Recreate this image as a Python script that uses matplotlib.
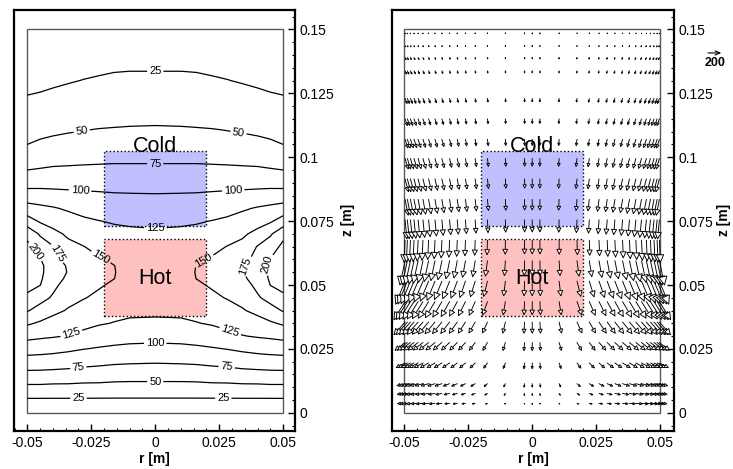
import numpy as np
import matplotlib.pyplot as plt
from matplotlib.patches import Rectangle
from matplotlib.ticker import MultipleLocator

plt.rcParams['font.family'] = ['Liberation Sans', 'DejaVu Sans']

# temperature, half domain r >= 0 (field is symmetric)
r_t = [0, 0.01, 0.016, 0.022, 0.028, 0.034, 0.04, 0.045, 0.05]
z_t = [0, 0.005, 0.01, 0.015, 0.02, 0.025, 0.03, 0.035, 0.04, 0.045, 0.05, 0.0525,
       0.055, 0.0575, 0.06, 0.065, 0.07, 0.075, 0.08, 0.085, 0.09, 0.095, 0.1,
       0.105, 0.11, 0.12, 0.13, 0.14, 0.15]
T_half = [
    [0, 0, 0, 0, 0, 0, 0, 0, 0],
    [22, 22, 22, 22, 22, 22, 22, 22, 22],
    [42, 42, 42, 43, 43, 44, 44, 45, 45],
    [60, 60, 61, 63, 64, 66, 67, 68, 68],
    [77, 78, 79, 81, 83, 86, 88, 89, 90],
    [93, 94, 96, 98, 100.5, 104, 107, 109, 110],
    [108, 109, 110, 113, 118, 124, 127, 129, 132],
    [122, 122, 124, 127, 132, 136, 141, 147, 153],
    [128, 129, 132, 137, 142, 148, 156, 165, 177],
    [133, 135, 140, 146, 151, 157, 172, 184, 196],
    [137, 140, 147, 152, 158, 165, 181, 200.5, 206],
    [141, 144, 150.1, 154.5, 161.5, 170, 186, 203, 211],
    [142, 145, 150.5, 156, 164, 173.5, 188.5, 204.5, 215],
    [141, 144, 150.2, 155, 162, 172, 189, 204.5, 216.5],
    [137, 140, 147.5, 152, 157, 166, 184, 201, 213],
    [133, 135, 139, 144, 150.5, 156.5, 176.5, 188, 206],
    [128, 129, 131, 135, 140, 146, 157, 172, 193],
    [121, 122, 123, 125.5, 129, 134.5, 140.5, 147, 161],
    [111.5, 112, 113, 114.5, 117, 122, 127, 130.5, 135],
    [101.5, 102, 102.5, 103.5, 105, 106.5, 108.5, 110, 111],
    [91, 91, 91, 92, 92, 92, 92, 92, 91],
    [80, 80, 80, 79.5, 79, 78.5, 78, 76.5, 75],
    [70, 70, 70, 69.5, 69, 68, 67, 65, 62.5],
    [61.5, 61.5, 61, 60.5, 59.5, 58, 56, 53.5, 50],
    [53, 52.5, 52, 51.5, 50.5, 49, 47, 45, 43],
    [40.5, 40.5, 40, 39, 38, 36, 33.5, 31, 29.5],
    [29, 29, 28.5, 27, 25.5, 23.5, 21.5, 20, 19],
    [18, 18, 17.5, 16.5, 15, 13.5, 13, 11.5, 10.5],
    [7, 7, 7, 6, 5, 4, 4, 3, 2],
]
levels = [25, 50, 75, 100, 125, 150, 175, 200]

# where the contour labels sit
label_pos = [(0, 0.1338), (-0.0287, 0.110), (0.0325, 0.1093), (0, 0.0973),
             (-0.0294, 0.0869), (0.0305, 0.0871), (0, 0.0732),
             (-0.0469, 0.063), (-0.0372, 0.063), (-0.0209, 0.0617),
             (0.0188, 0.0597), (0.0344, 0.0578), (0.0442, 0.0578),
             (-0.0326, 0.0304), (0.0292, 0.0317), (0, 0.0271),
             (-0.030, 0.017), (0.0279, 0.018), (0, 0.0121),
             (-0.030, 0.0054), (0.0266, 0.0054)]

# velocity vectors, half domain r >= 0; u positive = towards the wall
r_v = [0, 0.003, 0.0105, 0.0175, 0.0223, 0.0261, 0.0293, 0.0323, 0.0353, 0.038,
       0.0405, 0.0427, 0.0446, 0.0462, 0.0476, 0.0488, 0.0497]
z_v = [0.0037, 0.0076, 0.0114, 0.0195, 0.0275, 0.0355, 0.0435, 0.0515, 0.0595,
       0.0675, 0.0755, 0.0835, 0.0915, 0.0995, 0.107, 0.115, 0.123, 0.1338,
       0.139, 0.1436, 0.1484]
u_half = [
    [0, 5, 20, 40, 55, 65, 75, 85, 95, 100, 110, 115, 120, 125, 125, 125, 125],
    [0, 8, 25, 50, 65, 75, 85, 95, 105, 110, 118, 122, 126, 128, 128, 128, 128],
    [0, 10, 30, 60, 75, 85, 95, 105, 115, 120, 125, 130, 132, 134, 135, 135, 135],
    [0, 10, 35, 65, 85, 95, 105, 115, 125, 130, 135, 140, 142, 145, 145, 145, 145],
    [0, 10, 40, 75, 95, 110, 120, 130, 140, 145, 150, 155, 158, 160, 160, 160, 160],
    [0, 10, 40, 80, 100, 115, 128, 140, 150, 158, 163, 168, 172, 175, 175, 175, 175],
    [0, 9, 35, 75, 95, 110, 122, 133, 143, 152, 160, 166, 170, 173, 175, 175, 175],
    [0, 7, 28, 60, 76, 88, 98, 107, 116, 124, 130, 136, 140, 143, 145, 146, 146],
    [0, 4, 15, 32, 40, 46, 52, 57, 62, 66, 70, 73, 76, 78, 80, 80, 80],
    [0, 1, 3, 6, 8, 9, 10, 11, 12, 13, 14, 15, 15, 15, 15, 15, 15],
    [0, -1, -5, -10, -13, -15, -17, -19, -21, -23, -25, -27, -28, -29, -30, -30, -30],
    [0, -2, -8, -16, -21, -25, -28, -32, -35, -38, -41, -44, -46, -48, -49, -50, -50],
    [0, -2, -8, -17, -22, -26, -30, -34, -38, -42, -45, -48, -50, -52, -54, -55, -55],
    [0, -2, -8, -16, -21, -25, -29, -33, -37, -40, -43, -46, -48, -50, -51, -52, -52],
    [0, -2, -7, -14, -18, -22, -26, -30, -33, -36, -39, -42, -44, -45, -46, -47, -47],
    [0, -2, -6, -12, -15, -18, -21, -24, -27, -30, -33, -35, -37, -38, -39, -40, -40],
    [0, -1, -5, -10, -13, -15, -18, -20, -23, -25, -28, -30, -32, -33, -34, -35, -35],
    [0, -1, -4, -8, -10, -12, -14, -16, -18, -20, -22, -24, -25, -26, -27, -28, -28],
    [0, -1, -3, -6, -8, -9, -11, -12, -14, -15, -17, -18, -19, -20, -21, -22, -22],
    [0, -1, -2, -4, -5, -6, -7, -8, -9, -10, -11, -12, -13, -14, -15, -16, -16],
    [0, 0, -1, -2, -2, -3, -3, -4, -4, -5, -5, -6, -6, -7, -7, -8, -8],
]
w_half = [
    [-25, -25, -20, -15, -12, -10, -10, -8, -8, -8, -8, -8, -8, -8, -6, -5, -5],
    [-45, -45, -40, -32, -28, -25, -23, -22, -21, -20, -20, -20, -20, -20, -18, -16, -15],
    [-65, -65, -60, -52, -47, -44, -42, -40, -38, -37, -36, -36, -36, -36, -35, -35, -34],
    [-100, -100, -95, -88, -84, -82, -80, -78, -77, -76, -76, -76, -76, -76, -76, -75, -75],
    [-135, -135, -132, -128, -125, -123, -122, -121, -120, -120, -120, -121, -122, -123, -124, -125, -125],
    [-180, -180, -178, -175, -175, -176, -178, -180, -183, -186, -190, -193, -196, -198, -200, -200, -200],
    [-210, -210, -210, -212, -216, -222, -228, -236, -244, -252, -260, -266, -272, -276, -280, -282, -282],
    [-232, -232, -234, -240, -248, -256, -266, -276, -288, -300, -312, -324, -334, -342, -350, -355, -358],
    [-232, -232, -236, -244, -252, -262, -272, -284, -298, -312, -326, -340, -352, -362, -370, -376, -378],
    [-218, -218, -222, -230, -238, -246, -255, -266, -278, -290, -302, -314, -324, -332, -338, -342, -344],
    [-195, -195, -198, -205, -212, -220, -228, -236, -246, -256, -266, -276, -284, -290, -295, -298, -300],
    [-172, -172, -175, -180, -186, -192, -198, -205, -212, -220, -228, -235, -241, -245, -248, -250, -250],
    [-150, -150, -152, -156, -160, -164, -168, -173, -178, -183, -188, -193, -197, -200, -203, -205, -205],
    [-128, -128, -129, -132, -135, -138, -141, -145, -149, -153, -157, -161, -164, -166, -168, -170, -170],
    [-105, -105, -106, -108, -110, -113, -116, -119, -122, -126, -129, -132, -135, -137, -139, -141, -142],
    [-82, -82, -83, -85, -87, -89, -91, -94, -96, -99, -102, -104, -106, -108, -110, -111, -112],
    [-65, -65, -66, -67, -69, -70, -72, -74, -76, -78, -80, -82, -84, -85, -86, -87, -88],
    [-45, -45, -45, -46, -47, -48, -49, -50, -52, -53, -55, -56, -57, -58, -59, -60, -60],
    [-33, -33, -33, -34, -35, -36, -37, -38, -39, -40, -41, -42, -43, -44, -44, -45, -45],
    [-22, -22, -22, -23, -23, -24, -24, -25, -25, -26, -26, -27, -27, -28, -28, -28, -28],
    [-10, -10, -10, -10, -11, -11, -11, -12, -12, -12, -13, -13, -13, -14, -14, -14, -14],
]
v_ref = 200          # reference vector magnitude
ref_len = 0.0052     # drawn length of the reference vector [m]

# heater / cooler blocks
cold_r, cold_z = (-0.02, 0.02), (0.073, 0.1025)
hot_r, hot_z = (-0.02, 0.02), (0.038, 0.068)

# mirror the half-domain data to the full domain
r_arr = np.array(r_t)
rt_full = np.concatenate([-r_arr[:0:-1], r_arr])
T = np.array(T_half)
T_full = np.hstack([T[:, :0:-1], T])
R, Z = np.meshgrid(rt_full, z_t)

rv = np.array(r_v)
rv_full = np.concatenate([-rv[:0:-1], rv])
U = np.array(u_half, dtype=float)
W = np.array(w_half, dtype=float)
U_full = np.hstack([-U[:, :0:-1], U])
W_full = np.hstack([W[:, :0:-1], W])

# %%
fig = plt.figure(figsize=(7.33, 4.69), dpi=100)
ax1 = fig.add_axes([14 / 733, 1 - 430.7 / 469, 281 / 733, 420.7 / 469])
ax2 = fig.add_axes([392 / 733, 1 - 430.7 / 469, 282 / 733, 420.7 / 469])
ax1.set_xlim(-0.0552, 0.0546)
ax2.set_xlim(-0.0548, 0.0554)


def add_blocks(ax):
    ax.add_patch(Rectangle((cold_r[0], cold_z[0]), cold_r[1] - cold_r[0], cold_z[1] - cold_z[0],
                           fc='#c0c0ff', ec='black', ls=':', lw=1.0, zorder=1))
    ax.add_patch(Rectangle((hot_r[0], hot_z[0]), hot_r[1] - hot_r[0], hot_z[1] - hot_z[0],
                           fc='#ffc0c0', ec='black', ls=':', lw=1.0, zorder=1))
    ax.text(0, 0.1040, 'Cold', fontsize=15.5, ha='center', va='center', zorder=5)
    ax.text(0, 0.0526, 'Hot', fontsize=15.5, ha='center', va='center', zorder=5)
    ax.add_patch(Rectangle((-0.05, 0), 0.1, 0.15, fill=False, ec='0.35', lw=1.0, zorder=1.5))


for ax, ylab_x in ((ax1, 1.164), (ax2, 1.154)):
    ax.set_ylim(-0.007, 0.1576)
    ax.yaxis.tick_right()
    ax.yaxis.set_label_position('right')
    ax.set_xticks([-0.05, -0.025, 0, 0.025, 0.05])
    ax.set_xticklabels(['-0.05', '-0.025', '0', '0.025', '0.05'])
    ax.set_yticks([0, 0.025, 0.05, 0.075, 0.1, 0.125, 0.15])
    ax.set_yticklabels(['0', '0.025', '0.05', '0.075', '0.1', '0.125', '0.15'])
    ax.xaxis.set_minor_locator(MultipleLocator(0.005))
    ax.yaxis.set_minor_locator(MultipleLocator(0.005))
    ax.tick_params(which='both', direction='in', top=False, left=False,
                   right=True, bottom=True, labelsize=10)
    ax.tick_params(which='major', length=5, width=1)
    ax.tick_params(which='minor', length=2.5, width=0.8)
    for s in ax.spines.values():
        s.set_linewidth(1.6)
    ax.set_xlabel('r [m]', fontsize=10, fontweight='bold')
    ax.set_ylabel('z [m]', fontsize=10, fontweight='bold')
    ax.xaxis.set_label_coords(0.5, -0.05)
    ax.yaxis.set_label_coords(ylab_x, 0.5)
    add_blocks(ax)

# left: temperature contours
cs = ax1.contour(R, Z, T_full, levels=levels, colors='black', linewidths=0.9, zorder=2)
ax1.clabel(cs, fmt='%d', fontsize=8, manual=label_pos, inline=True, inline_spacing=2)

# right: velocity vectors with open heads
sx, sy = ax2.transData.transform((1, 1)) - ax2.transData.transform((0, 0))
vscale = ref_len / v_ref
for i, z in enumerate(z_v):
    for j, r in enumerate(rv_full):
        du = U_full[i, j] * vscale
        dw = W_full[i, j] * vscale
        L = np.hypot(du * sx, dw * sy) * 72 / fig.dpi
        ax2.annotate('', xy=(r + du, z + dw), xytext=(r, z),
                     arrowprops=dict(arrowstyle='-|>,head_length=0.4,head_width=0.2',
                                     mutation_scale=max(0.8 * L, 0.3), lw=0.65,
                                     fc='white', ec='black', shrinkA=0, shrinkB=0),
                     annotation_clip=False, zorder=3)

# reference vector
ax2.annotate('', xy=(0.0687 + v_ref * vscale, 0.1408), xytext=(0.0687, 0.1408),
             arrowprops=dict(arrowstyle='->,head_length=0.35,head_width=0.15', mutation_scale=10,
                             lw=0.8, shrinkA=0, shrinkB=0),
             annotation_clip=False)
ax2.text(0.0713, 0.1368, str(v_ref), fontsize=9, fontweight='bold', ha='center', va='center',
         clip_on=False)

fig.savefig('out.png', dpi=100)
